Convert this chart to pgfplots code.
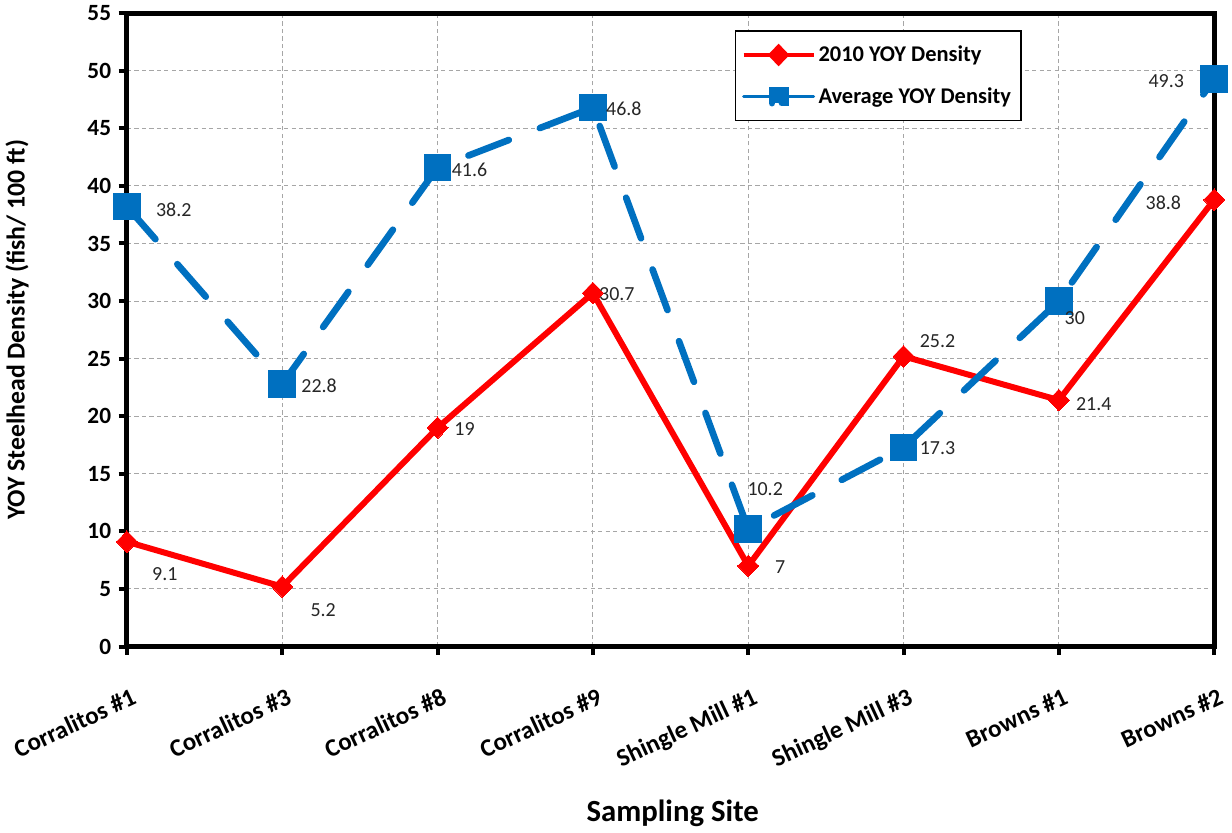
\documentclass[border=0pt]{standalone}
\usepackage{fontspec}
\setmainfont{Carlito}
\usepackage{pgfplots}
\pgfplotsset{compat=1.18}
\usepackage{pgfplotstable}
\definecolor{myred}{RGB}{255,0,0}
\definecolor{myblue}{RGB}{0,112,192}

\pgfplotstableread{
x y lab dx dy
0 9.1 9.1 38 -32
1 5.2 5.2 41 -23
2 19 19 27 -1
3 30.7 30.7 24 -1
4 7 7 32 -1
5 25.2 25.2 34 15
6 21.4 21.4 35 -4
7 38.8 38.8 -51 -3
}\redtable

\pgfplotstableread{
x y lab dx dy
0 38.2 38.2 47 -3
1 22.8 22.8 37 -2
2 41.6 41.6 32 -2
3 46.8 46.8 31 -1
4 10.2 10.2 17 40
5 17.3 17.3 34 -1
6 30 30 16 -17
7 49.3 49.3 -48 -2
}\bluetable

\begin{document}
\begin{tikzpicture}
\begin{axis}[
  scale only axis,
  width=654pt, height=381pt,
  xmin=0, xmax=7, ymin=0, ymax=55,
  xtick={0,...,7},
  xticklabels={Corralitos \#1, Corralitos \#3, Corralitos \#8, Corralitos \#9, Shingle Mill \#1, Shingle Mill \#3, Browns \#1, Browns \#2},
  ytick={0,5,...,55},
  tick pos=left,
  tick align=outside,
  major tick length=5pt,
  every tick/.style={black, line width=2.4pt},
  axis line style={black, line width=3pt},
  grid=major,
  major grid style={gray!70, dash pattern=on 2.5pt off 2pt, line width=0.6pt},
  /pgf/number format/assume math mode=true,
  yticklabel style={font=\bfseries\fontsize{14}{16}\selectfont, xshift=-1pt},
  xticklabel style={font=\bfseries\fontsize{15}{16}\selectfont, rotate=25, anchor=north east, yshift=-15pt, xshift=-3pt},
  ylabel={YOY Steelhead Density (fish/ 100 ft)},
  every axis y label/.style={at={(axis description cs:-0.101,0.5)}, rotate=90, anchor=center,
    font=\bfseries\fontsize{15.5}{17}\selectfont},
  xlabel={Sampling Site},
  every axis x label/.style={at={(axis description cs:0.502,-0.264)}, anchor=center,
    font=\bfseries\fontsize{18.5}{21}\selectfont},
  legend style={at={(0.559,0.973)}, anchor=north west, draw=black, line width=0.8pt,
    font=\bfseries\fontsize{13.5}{16}\selectfont, row sep=10pt, inner xsep=4pt, inner ysep=7pt},
  legend cell align=left,
  nodes near coords,
  point meta=explicit symbolic,
  visualization depends on={0.6*\thisrow{dx} \as \dx},
  visualization depends on={0.6*\thisrow{dy} \as \dy},
  every node near coord/.append style={font=\fontsize{12}{14}\selectfont, color=black!85, anchor=center, xshift=\dx pt, yshift=\dy pt},
  clip=false,
]
\addplot[color=myred, line width=3.6pt, line join=miter,
  mark=diamond*, mark size=6.5pt, mark options={solid, fill=myred, line width=0pt, xscale=1.3},
  legend image code/.code={\draw[line width=2pt] (0pt,0pt)--(42pt,0pt);
    \fill[myred] (21pt,-4.2pt)--(25pt,0pt)--(21pt,4.2pt)--(17pt,0pt)--cycle;}]
  table[x=x, y=y, meta=lab] {\redtable};
\addplot[color=myblue, line width=4pt, dash pattern=on 26pt off 20pt, line cap=round,
  mark=square*, mark size=8pt, mark options={solid, fill=myblue, line width=0pt},
  legend image code/.code={\draw[solid, line width=2pt] (0pt,0pt)--(42pt,0pt);
    \fill[myblue] (17pt,-4pt) rectangle (25pt,4pt);}]
  table[x=x, y=y, meta=lab] {\bluetable};
\legend{2010 YOY Density, Average YOY Density}
\end{axis}
\end{tikzpicture}
\end{document}
